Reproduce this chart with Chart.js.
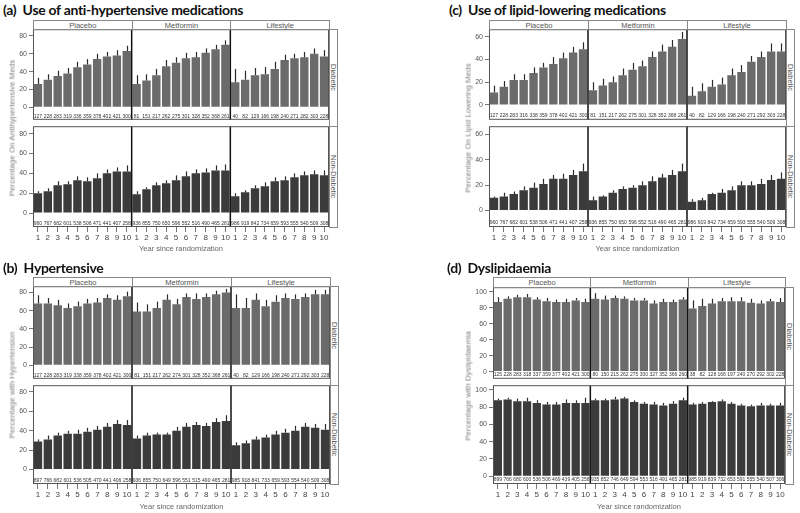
<!DOCTYPE html>
<html>
<head>
<meta charset="utf-8">
<script src="https://cdn.jsdelivr.net/npm/chart.js@4.4.1/dist/chart.umd.min.js"></script>
<style>
  body { margin: 0; background: #fff; }
  #page { position: relative; width: 800px; height: 513px; overflow: hidden; font-family: "Liberation Sans", Arial, sans-serif; color: #555; }
  #page canvas { position: absolute; }
  .title { position: absolute; font: bold 14px Lato, sans-serif; letter-spacing: -0.3px; color: #111; white-space: nowrap; transform: translateY(-50%); }
  .strip { position: absolute; box-sizing: border-box; border: 1px solid #888; background: #fff; font-size: 7.5px; color: #555; display: flex; align-items: center; justify-content: center; }
  .strip span.v { writing-mode: vertical-rl; }
  .ytitle { position: absolute; font-size: 8px; font-weight: 400; color: #808080; white-space: nowrap; transform: translate(-50%, -50%) rotate(-90deg); }
  .xtitle { position: absolute; font-size: 7.5px; color: #666; white-space: nowrap; transform: translate(-50%, -50%); }
</style>
</head>
<body>
<div id="page"></div>
<script>
const years = [1, 2, 3, 4, 5, 6, 7, 8, 9, 10];
const groups = ['Placebo', 'Metformin', 'Lifestyle'];
const strata = ['Diabetic', 'Non-Diabetic'];

// values per row: Placebo 1-10, Metformin 1-10, Lifestyle 1-10
// (a) anti-hypertensive meds
const aDiabPct = [26, 31, 35, 38, 45, 48, 54, 57, 58, 63, 26, 30, 36, 46, 50, 55, 56, 61, 65, 70, 28, 31, 36, 37, 43, 53, 55, 56, 60, 57];
const aDiabUp  = [33, 37, 41, 44, 51, 54, 60, 62, 64, 69, 36, 37, 43, 53, 56, 61, 62, 66, 70, 75, 43, 41, 44, 45, 51, 59, 60, 62, 66, 64];
const aDiabN   = [127, 228, 283, 319, 336, 359, 378, 402, 421, 300, 81, 151, 217, 262, 275, 301, 328, 352, 368, 261, 40, 82, 129, 166, 198, 240, 271, 282, 303, 228];
const aNonPct  = [20, 22, 28, 29, 33, 32, 35, 40, 42, 42, 19, 24, 28, 30, 33, 37, 40, 41, 43, 43, 17, 21, 25, 27, 32, 33, 36, 38, 39, 38];
const aNonUp   = [22, 25, 32, 32, 37, 36, 40, 44, 46, 48, 22, 26, 31, 33, 38, 42, 44, 45, 48, 49, 20, 23, 28, 31, 36, 37, 40, 42, 43, 43];
const aNonN    = [960, 767, 682, 601, 538, 506, 471, 441, 407, 258, 936, 855, 750, 650, 596, 552, 516, 490, 465, 281, 986, 919, 842, 734, 659, 593, 555, 540, 509, 308];

// (c) lipid-lowering meds
const cDiabPct = [11, 16, 22, 22, 28, 33, 36, 41, 46, 49, 13, 17, 20, 26, 31, 34, 42, 47, 51, 58, 8, 12, 16, 18, 26, 29, 38, 42, 47, 47];
const cDiabUp  = [17, 21, 27, 27, 33, 37, 42, 46, 51, 55, 20, 23, 25, 32, 37, 39, 47, 53, 57, 64, 16, 19, 22, 24, 32, 35, 43, 47, 54, 54];
const cDiabN   = [127, 228, 283, 316, 338, 359, 378, 402, 421, 300, 81, 151, 217, 262, 275, 301, 328, 352, 368, 261, 40, 82, 129, 166, 198, 240, 271, 292, 303, 228];
const cNonPct  = [10, 11, 13, 16, 18, 21, 25, 25, 28, 31, 8, 11, 14, 17, 18, 20, 23, 26, 28, 31, 7, 8, 13, 14, 16, 20, 20, 21, 24, 25];
const cNonUp   = [11, 14, 15, 19, 22, 25, 28, 29, 32, 37, 11, 12, 16, 19, 20, 23, 27, 29, 32, 37, 9, 10, 14, 17, 19, 23, 23, 25, 28, 30];
const cNonN    = [960, 767, 682, 601, 538, 506, 471, 441, 407, 258, 936, 855, 750, 650, 596, 552, 516, 490, 465, 281, 986, 919, 842, 734, 659, 593, 555, 540, 509, 308];

// (b) hypertensive
const bDiabPct = [68, 68, 66, 63, 65, 68, 69, 74, 72, 76, 59, 59, 63, 72, 67, 75, 73, 75, 78, 80, 63, 63, 72, 65, 70, 74, 73, 75, 78, 78];
const bDiabUp  = [77, 74, 72, 68, 70, 73, 74, 78, 77, 81, 69, 67, 70, 78, 73, 79, 79, 79, 82, 84, 78, 74, 79, 72, 77, 79, 78, 79, 83, 83];
const bDiabN   = [127, 228, 283, 319, 338, 359, 378, 402, 421, 300, 81, 151, 217, 262, 274, 301, 328, 352, 368, 261, 40, 82, 129, 166, 198, 240, 271, 292, 303, 228];
const bNonPct  = [29, 31, 35, 37, 37, 39, 41, 44, 47, 46, 32, 35, 36, 36, 40, 44, 46, 45, 49, 50, 25, 27, 31, 33, 36, 38, 40, 44, 43, 41];
const bNonUp   = [31, 35, 38, 40, 41, 43, 45, 48, 51, 51, 35, 38, 38, 38, 44, 48, 49, 48, 53, 56, 28, 30, 34, 36, 40, 42, 45, 48, 47, 47];
const bNonN    = [897, 766, 682, 601, 536, 505, 470, 441, 406, 258, 936, 855, 750, 649, 596, 551, 515, 490, 465, 281, 985, 918, 841, 733, 659, 593, 554, 540, 509, 308];

// (d) dyslipidaemia
const dDiabPct = [87, 91, 93, 93, 90, 88, 87, 87, 89, 87, 91, 90, 92, 91, 89, 89, 85, 87, 87, 90, 79, 82, 85, 88, 88, 88, 86, 85, 88, 87];
const dDiabUp  = [93, 94, 96, 97, 93, 92, 90, 91, 92, 91, 98, 95, 95, 94, 92, 92, 89, 91, 90, 93, 89, 91, 91, 92, 93, 93, 91, 89, 91, 92];
const dDiabN   = [125, 228, 283, 318, 337, 359, 377, 402, 421, 300, 80, 150, 215, 262, 275, 300, 327, 352, 366, 260, 38, 82, 128, 166, 197, 240, 270, 292, 302, 228];
const dNonPct  = [88, 89, 87, 87, 85, 83, 83, 85, 85, 85, 88, 88, 89, 90, 86, 84, 83, 82, 84, 88, 83, 84, 86, 87, 84, 82, 81, 82, 82, 82];
const dNonUp   = [90, 91, 90, 91, 88, 86, 86, 89, 88, 91, 90, 90, 92, 92, 88, 86, 86, 85, 87, 91, 85, 86, 87, 89, 86, 84, 83, 85, 84, 85];
const dNonN    = [899, 766, 680, 600, 536, 506, 469, 439, 405, 258, 935, 852, 746, 649, 594, 553, 516, 491, 465, 281, 985, 919, 839, 732, 653, 591, 555, 540, 507, 306];

const categories = groups.flatMap(g => years.map(y => g + ' ' + y));

const panels = [
  { title: '(a)  Use of anti-hypertensive medications', tx: 3, ty: 9, left: 33, right: 329, hTop: 20, top: 29, mid: 126, bottom: 227,
    ymin: -14, ymax: 87.5, ticks: [0, 20, 40, 60, 80], nY: -10.5, ytitle: 'Percentage On Antihypertensive Meds', ytx: 12, xty: 248,
    rows: [[aDiabPct, aDiabUp, aDiabN], [aNonPct, aNonUp, aNonN]] },
  { title: '(c)  Use of lipid-lowering medications', tx: 449, ty: 9, left: 489, right: 786, hTop: 20, top: 29, mid: 126, bottom: 227,
    ymin: -13, ymax: 66.5, ticks: [0, 20, 40, 60], nY: -9.5, ytitle: 'Percentage On Lipid Lowering Meds', ytx: 468, xty: 248,
    rows: [[cDiabPct, cDiabUp, cDiabN], [cNonPct, cNonUp, cNonN]] },
  { title: '(b)  Hypertensive', tx: 3, ty: 267, left: 33, right: 330, hTop: 277, top: 286, mid: 385, bottom: 484,
    ymin: -15, ymax: 87, ticks: [0, 20, 40, 60, 80], nY: -11, ytitle: 'Percentage with Hypertension', ytx: 12, xty: 506,
    rows: [[bDiabPct, bDiabUp, bDiabN], [bNonPct, bNonUp, bNonN]] },
  { title: '(d)  Dyslipidaemia', tx: 447, ty: 267, left: 493, right: 785, hTop: 277, top: 287, mid: 385, bottom: 484,
    ymin: -9, ymax: 105.5, ticks: [0, 20, 40, 60, 80, 100], nY: -3.5, boxed: true, ytitle: 'Percentage with Dyslipidaemia', ytx: 468, xty: 506,
    rows: [[dDiabPct, dDiabUp, dDiabN], [dNonPct, dNonUp, dNonN]] }
];

const page = document.getElementById('page');
const YW = 30, PAD = 6, XH = 24;
const barColors = ['#6b6b6b', '#3b3b3b'];

function el(cls, text, css) {
  const d = document.createElement('div');
  d.className = cls;
  d.innerHTML = text;
  Object.assign(d.style, css);
  page.appendChild(d);
  return d;
}

// error bars, N counts, group separators and frame
function decor(upper, counts, nY, boxed) {
  return {
    id: 'decor',
    afterDatasetsDraw(chart) {
      const { ctx, chartArea: a, scales: { y } } = chart;
      const bars = chart.getDatasetMeta(0).data;
      ctx.save();
      ctx.strokeStyle = '#2a2a2a';
      ctx.lineWidth = 1.2;
      bars.forEach((b, i) => {
        const x = Math.round(b.x) + 0.5;
        ctx.beginPath();
        ctx.moveTo(x, b.y);
        ctx.lineTo(x, y.getPixelForValue(upper[i]));
        ctx.stroke();
      });
      const ny = y.getPixelForValue(nY);
      ctx.font = '5px "Liberation Sans", Arial, sans-serif';
      ctx.textAlign = 'center';
      ctx.textBaseline = 'middle';
      bars.forEach((b, i) => {
        if (boxed) {
          ctx.fillStyle = '#fff';
          ctx.fillRect(b.x - b.width / 2, ny - 3, b.width, 6);
        }
        ctx.fillStyle = '#333';
        ctx.fillText(counts[i], b.x, ny);
      });
      ctx.strokeStyle = '#111';
      ctx.lineWidth = 1.5;
      [9, 19].forEach(i => {
        const x = (bars[i].x + bars[i + 1].x) / 2;
        ctx.beginPath();
        ctx.moveTo(x, a.top);
        ctx.lineTo(x, a.bottom);
        ctx.stroke();
      });
      ctx.strokeStyle = '#555';
      ctx.lineWidth = 1;
      ctx.strokeRect(a.left + 0.5, a.top + 0.5, a.right - a.left - 1, a.bottom - a.top - 1);
      ctx.restore();
    }
  };
}

function makeChart(p, r) {
  const [pct, up, counts] = p.rows[r];
  const top = r === 0 ? p.top : p.mid;
  const h = r === 0 ? p.mid - p.top : p.bottom - p.mid;
  const plotW = p.right - p.left;
  const cv = document.createElement('canvas');
  cv.width = YW + plotW + PAD;
  cv.height = PAD + h + (r === 1 ? XH : 0);
  cv.style.left = (p.left - YW) + 'px';
  cv.style.top = (top - PAD) + 'px';
  page.appendChild(cv);
  new Chart(cv, {
    type: 'bar',
    data: {
      labels: categories,
      datasets: [{
        data: pct,
        backgroundColor: barColors[r],
        borderWidth: 0,
        barPercentage: 0.85,
        categoryPercentage: 1
      }]
    },
    options: {
      responsive: false,
      animation: false,
      layout: { padding: { top: PAD, right: PAD, left: 0, bottom: 0 } },
      plugins: { legend: { display: false }, tooltip: { enabled: false } },
      scales: {
        x: {
          display: r === 1,
          offset: true,
          grid: { offset: false, drawOnChartArea: false, tickLength: 5, color: '#777' },
          border: { display: false },
          ticks: { autoSkip: false, maxRotation: 0, padding: 1, color: '#444', font: { size: 8 },
                   callback: (v, i) => years[i % 10] },
          afterFit: s => { s.height = r === 1 ? XH : 0; }
        },
        y: {
          min: p.ymin,
          max: p.ymax,
          afterBuildTicks: s => { s.ticks = p.ticks.map(v => ({ value: v })); },
          afterFit: s => { s.width = YW; },
          grid: { drawOnChartArea: false, tickLength: 4, color: '#777' },
          border: { display: false },
          ticks: { color: '#555', font: { size: 7 }, padding: 2 }
        }
      }
    },
    plugins: [decor(up, counts, p.nY, p.boxed)]
  });
}

panels.forEach(p => {
  makeChart(p, 0);
  makeChart(p, 1);
  el('title', p.title.replace('  ', '&nbsp; '), { left: p.tx + 'px', top: p.ty + 'px' });
  const gw = (p.right - p.left) / 3;
  groups.forEach((g, i) => {
    el('strip', g, { left: (p.left + i * gw) + 'px', top: p.hTop + 'px', width: (gw + 1) + 'px', height: (p.top - p.hTop + 1) + 'px' });
  });
  strata.forEach((s, i) => {
    const t = i === 0 ? p.top : p.mid;
    const b = i === 0 ? p.mid : p.bottom;
    el('strip', '<span class="v">' + s + '</span>', { left: p.right + 'px', top: t + 'px', width: '9px', height: (b - t + 1) + 'px' });
  });
  el('ytitle', p.ytitle, { left: p.ytx + 'px', top: ((p.top + p.bottom) / 2) + 'px' });
  el('xtitle', 'Year since randomization', { left: ((p.left + p.right) / 2) + 'px', top: p.xty + 'px' });
});
</script>
</body>
</html>
